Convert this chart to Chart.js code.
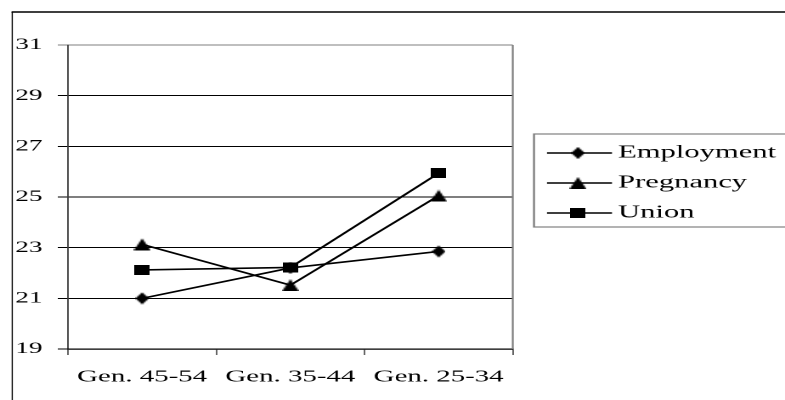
<!DOCTYPE html>
<html>
<head>
<meta charset="utf-8">
<script src="https://cdn.jsdelivr.net/npm/chart.js@4.4.0/dist/chart.umd.min.js"></script>
<style>
  html, body { margin: 0; padding: 0; background: #fff; overflow: hidden; }
  /* the original picture is stretched sideways, so draw narrow and stretch */
  #wrap { width: 462px; height: 400px; transform: scaleX(1.6991); transform-origin: 0 0; }
</style>
</head>
<body>
<div id="wrap"><canvas id="chart" width="462" height="400"></canvas></div>
<script>
const categories = ["Gen. 45-54", "Gen. 35-44", "Gen. 25-34"];
const seriesNames = ["Employment", "Pregnancy", "Union"];
const employment = [21.0, 22.2, 22.85];
const pregnancy = [23.13, 21.52, 25.05];
const union = [22.12, 22.22, 25.94];
const yTicks = [19, 21, 23, 25, 27, 29, 31];

const SX = 785 / 462;
const FONT = "'Liberation Serif', 'Times New Roman', serif";

// markers drawn narrow so they come out right after the stretch
function marker(kind, w, h) {
    const c = document.createElement("canvas");
    c.width = w;
    c.height = h;
    const g = c.getContext("2d");
    g.fillStyle = "#000";
    g.beginPath();
    if (kind === "diamond") {
        g.moveTo(w / 2, 0); g.lineTo(w, h / 2); g.lineTo(w / 2, h); g.lineTo(0, h / 2);
    } else if (kind === "triangle") {
        g.moveTo(w / 2, 0); g.lineTo(w, h); g.lineTo(0, h);
    } else {
        g.rect(0, 0, w, h);
    }
    g.closePath();
    g.fill();
    return c;
}
const markers = [marker("diamond", 8, 12), marker("triangle", 10, 12), marker("square", 9, 10)];

const framePlugin = {
    id: "frame",
    beforeDraw(chart) {
        const ctx = chart.ctx;
        ctx.save();
        ctx.fillStyle = "#fff";
        ctx.fillRect(0, 0, chart.width, chart.height);
        ctx.strokeStyle = "#000";
        ctx.lineWidth = 0.7;
        ctx.beginPath(); ctx.moveTo(7.2, 400); ctx.lineTo(7.2, 12); ctx.stroke();
        ctx.lineWidth = 1.5;
        ctx.beginPath(); ctx.moveTo(6.8, 12); ctx.lineTo(470, 12); ctx.stroke();
        ctx.restore();
    },
    beforeDatasetsDraw(chart) {
        // grey right edge of the plot area
        const a = chart.chartArea;
        const ctx = chart.ctx;
        ctx.save();
        ctx.strokeStyle = "#808080";
        ctx.lineWidth = 1.1;
        ctx.beginPath(); ctx.moveTo(a.right, a.top); ctx.lineTo(a.right, a.bottom); ctx.stroke();
        ctx.restore();
    },
    afterDraw(chart) {
        // legend box: line + marker + name
        const ctx = chart.ctx;
        ctx.save();
        ctx.strokeStyle = "#808080";
        ctx.lineWidth = 1.2;
        ctx.strokeRect(534 / SX, 134, 480 - 534 / SX, 93);
        ctx.font = "18px " + FONT;
        ctx.textBaseline = "middle";
        ctx.fillStyle = "#000";
        chart.data.datasets.forEach((ds, i) => {
            const y = 153 + i * 30;
            ctx.strokeStyle = "#000";
            ctx.lineWidth = 1.6;
            ctx.beginPath(); ctx.moveTo(547 / SX, y); ctx.lineTo(612 / SX, y); ctx.stroke();
            const m = ds.pointStyle;
            ctx.drawImage(m, 578 / SX - m.width / 2, y - m.height / 2);
            ctx.fillText(ds.label, 618 / SX, y);
        });
        ctx.restore();
    }
};

const seriesValues = [employment, pregnancy, union];
const datasets = seriesNames.map((name, i) => ({
    label: name,
    data: seriesValues[i],
    borderColor: "#000",
    backgroundColor: "#000",
    borderWidth: 1.6,
    pointStyle: markers[i],
    pointRadius: 5,
    tension: 0,
    fill: false,
    clip: false
}));

new Chart(document.getElementById("chart").getContext("2d"), {
    type: "line",
    data: { labels: categories, datasets: datasets },
    options: {
        responsive: false,
        animation: false,
        devicePixelRatio: 2,
        layout: { padding: { left: 7, top: 45, right: 160.2, bottom: 0 } },
        scales: {
            x: {
                offset: true,
                grid: { offset: true, drawOnChartArea: false, drawTicks: true, tickLength: 6, color: "#000", lineWidth: 0.6 },
                border: { display: true, color: "#000", width: 1.2 },
                ticks: { color: "#000", font: { family: FONT, size: 17 }, padding: 12, maxRotation: 0 },
                afterFit(s) { s.height = 51; }
            },
            y: {
                min: yTicks[0],
                max: yTicks[yTicks.length - 1],
                afterBuildTicks(s) { s.ticks = yTicks.map(v => ({ value: v })); },
                grid: {
                    color: c => (c.tick && c.tick.value === 31 ? "#808080" : "#000"),
                    lineWidth: 1,
                    tickLength: 6
                },
                border: { display: true, color: "#000", width: 0.7 },
                ticks: { color: "#000", font: { family: FONT, size: 16 }, padding: 9 },
                afterFit(s) { s.width = 33; }
            }
        },
        plugins: {
            legend: { display: false },
            tooltip: { enabled: false }
        }
    },
    plugins: [framePlugin]
});
</script>
</body>
</html>
